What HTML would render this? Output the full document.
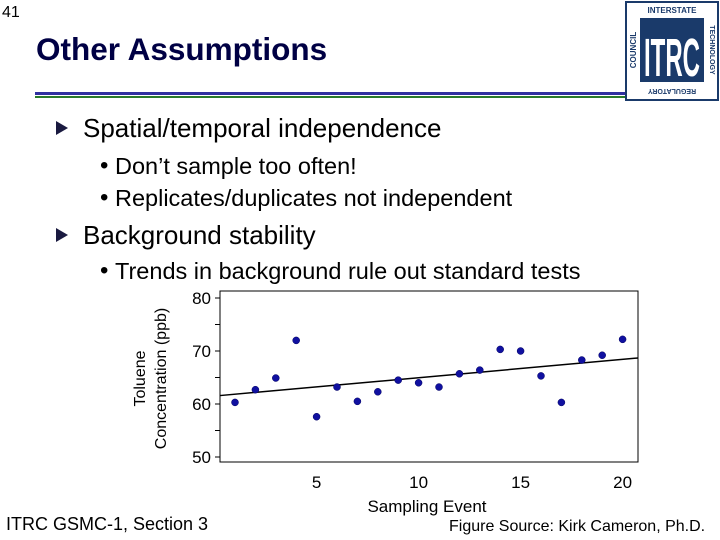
<!DOCTYPE html>
<html><head><meta charset="utf-8"><style>
body{margin:0;width:720px;height:540px;background:#fff;overflow:hidden;font-family:"Liberation Sans",sans-serif;position:relative}
.a{position:absolute;white-space:nowrap}
.tri{position:absolute;left:56px;width:0;height:0;border-top:7px solid transparent;border-bottom:7px solid transparent;border-left:12px solid #1a1a40}
.dot{position:absolute;left:100px;font-size:24px}
</style></head><body>
<div class="a" style="left:2px;top:4px;font-size:16px">41</div>
<div class="a" style="left:36px;top:31px;font-size:31.5px;font-weight:bold;color:#004">Other Assumptions</div>
<div class="a" style="left:35px;top:92px;width:592px;height:3px;background:#3030a0"></div>
<div class="a" style="left:35px;top:96px;width:592px;height:2px;background:#2a7a2a"></div>
<svg class="a" style="left:624px;top:0" width="96" height="102">
<rect x="2" y="2" width="92" height="98" fill="#fff" stroke="#1a3a6a" stroke-width="2"/>
<rect x="16" y="18" width="64" height="64" fill="#1a3a6a"/>
<text x="20" y="76" font-size="54" font-weight="bold" fill="#fff" textLength="56" lengthAdjust="spacingAndGlyphs">ITRC</text>
<text x="48" y="13" font-size="8" font-weight="bold" fill="#1a3a6a" text-anchor="middle">INTERSTATE</text>
<text x="48" y="95" font-size="7" font-weight="bold" fill="#1a3a6a" text-anchor="middle" transform="rotate(180 48 92)">REGULATORY</text>
<text x="12" y="50" font-size="8" font-weight="bold" fill="#1a3a6a" text-anchor="middle" transform="rotate(-90 12 50)">COUNCIL</text>
<text x="86" y="50" font-size="7" font-weight="bold" fill="#1a3a6a" text-anchor="middle" transform="rotate(90 86 50)">TECHNOLOGY</text>
</svg>
<div class="tri" style="top:121px"></div>
<div class="a" style="left:83px;top:113px;font-size:26px">Spatial/temporal independence</div>
<div class="a dot" style="top:152px">•</div>
<div class="a" style="left:115px;top:153px;font-size:23.5px">Don’t sample too often!</div>
<div class="a dot" style="top:184px">•</div>
<div class="a" style="left:115px;top:185px;font-size:23.5px">Replicates/duplicates not independent</div>
<div class="tri" style="top:228px"></div>
<div class="a" style="left:83px;top:220px;font-size:26px">Background stability</div>
<div class="a dot" style="top:257px">•</div>
<div class="a" style="left:115px;top:258px;font-size:23.5px">Trends in background rule out standard tests</div>
<svg class="a" style="left:0;top:280px" width="720" height="240" id="ch"></svg>
<div class="a" style="left:6px;top:514px;font-size:18px">ITRC GSMC-1, Section 3</div>
<div class="a" style="left:449px;top:518px;font-size:16px">Figure Source: Kirk Cameron, Ph.D.</div>
<script>
const events=[1,2,3,4,5,6,7,8,9,10,11,12,13,14,15,16,17,18,19,20];
const conc=[60.3,62.7,64.9,72,57.6,63.2,60.5,62.3,64.5,64,63.2,65.7,66.4,70.3,70,65.3,60.3,68.3,69.2,72.2];
const yTicks=[50,60,70,80];
const xTicks=[5,10,15,20];
const trend=[61.5,0.346];
const ns="http://www.w3.org/2000/svg",svg=document.getElementById('ch');
const X=v=>235+(v-1)*20.4, Y=v=>(298-280)+(80-v)*5.3;
function el(t,a,p){const e=document.createElementNS(ns,t);for(const k in a)e.setAttribute(k,a[k]);(p||svg).appendChild(e);return e;}
const L=220,R=638,T=11,B=182;
let f=el('rect',{x:L,y:T,width:R-L,height:B-T,fill:'none',stroke:'#000','stroke-width':1});

for(let v=50;v<=80;v+=5){let t=el('line',{x1:L-5,x2:L,y1:Y(v),y2:Y(v),stroke:'#000'});}
yTicks.forEach(v=>{let t=el('text',{x:L-9,y:Y(v)+6,'font-size':17,'text-anchor':'end'});t.textContent=v;});
xTicks.forEach(v=>{let t=el('text',{x:X(v),y:B+26,'font-size':17,'text-anchor':'middle'});t.textContent=v;});
const x0=(L-235)/20.4+1,x1=(R-235)/20.4+1;
let tl=el('line',{x1:L,x2:R,y1:Y(trend[0]+trend[1]*x0),y2:Y(trend[0]+trend[1]*x1),stroke:'#000','stroke-width':1.5});

events.forEach((e,i)=>{let c=el('circle',{cx:X(e),cy:Y(conc[i]),r:3.5,fill:'#1010a0',stroke:'#000060','stroke-width':0.5});});
let xt=el('text',{x:427,y:B+50,'font-size':17,'text-anchor':'middle'});xt.textContent='Sampling Event';
let yt=el('text',{transform:'rotate(-90)','font-size':16,'text-anchor':'middle'});

let s1=el('tspan',{x:-(T+B)/2-2,y:145},yt);s1.textContent='Toluene';
let s2=el('tspan',{x:-(T+B)/2-2,y:166},yt);s2.textContent='Concentration (ppb)';
</script>
</body></html>
